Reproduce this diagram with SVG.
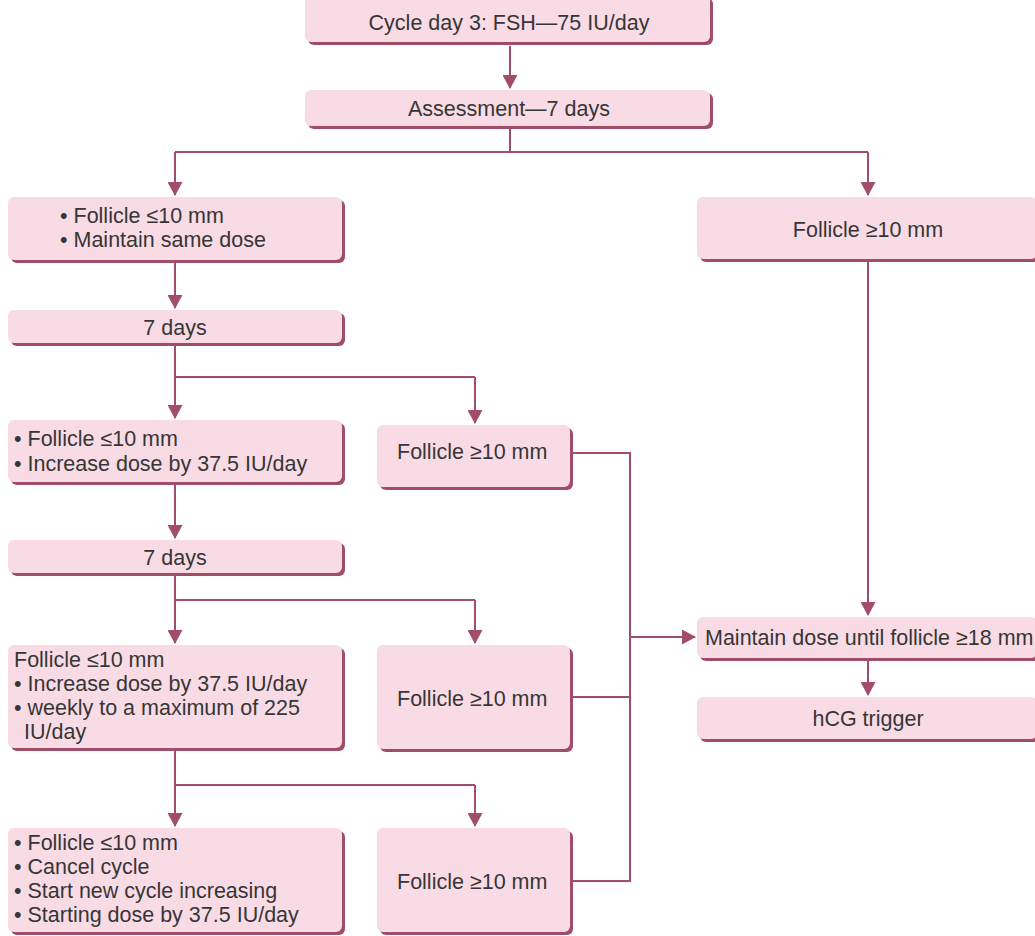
<svg xmlns="http://www.w3.org/2000/svg" width="1035" height="936" viewBox="0 0 1035 936">
  <style>
    .box { fill: #f9dbe5; }
    .shadow { fill: #a04d66; }
    .lbl { font-family: "Liberation Sans", Arial, sans-serif; font-size: 21.5px; fill: #363636; }
    .mid { text-anchor: middle; }
    .wire { fill: none; stroke: #a24e68; stroke-width: 2; }
  </style>
  <defs>
    <marker id="arrow" markerUnits="userSpaceOnUse" markerWidth="14" markerHeight="15" viewBox="0 0 14 15" refX="13" refY="7.5" orient="auto">
      <path d="M0,0 L14,7.5 L0,15 Z" fill="#a24e68"/>
    </marker>
  </defs>
  <rect width="1035" height="936" fill="#ffffff"/>

  <!-- connectors -->
  <g id="connectors" class="wire">
    <path d="M510,46 V88" marker-end="url(#arrow)"/>
    <path d="M510,128 V152"/>
    <path d="M175,152 H868"/>
    <path d="M175,152 V195" marker-end="url(#arrow)"/>
    <path d="M868,152 V195" marker-end="url(#arrow)"/>
    <path d="M175,263 V308" marker-end="url(#arrow)"/>
    <path d="M175,345 V377 H475"/>
    <path d="M175,377 V418" marker-end="url(#arrow)"/>
    <path d="M475,377 V423" marker-end="url(#arrow)"/>
    <path d="M175,485 V538" marker-end="url(#arrow)"/>
    <path d="M175,575 V600 H475"/>
    <path d="M175,600 V643" marker-end="url(#arrow)"/>
    <path d="M475,600 V643" marker-end="url(#arrow)"/>
    <path d="M175,751 V785 H475"/>
    <path d="M175,785 V826" marker-end="url(#arrow)"/>
    <path d="M475,785 V826" marker-end="url(#arrow)"/>
    <path d="M573,453 H630 V881 H573"/>
    <path d="M573,697 H630"/>
    <path d="M630,637 H695" marker-end="url(#arrow)"/>
    <path d="M868,262 V615" marker-end="url(#arrow)"/>
    <path d="M868,661 V695" marker-end="url(#arrow)"/>
  </g>

  <g id="start">
    <rect class="shadow" x="308" y="-2" width="405" height="47" rx="6"/>
    <rect class="box" x="305" y="-5" width="405" height="47" rx="6"/>
    <text class="lbl mid" x="509" y="30">Cycle day 3: FSH—75 IU/day</text>
  </g>
  <g id="assess">
    <rect class="shadow" x="308" y="93" width="405" height="36" rx="6"/>
    <rect class="box" x="305" y="90" width="405" height="36" rx="6"/>
    <text class="lbl mid" x="509" y="116">Assessment—7 days</text>
  </g>
  <g id="maintain-same">
    <rect class="shadow" x="11" y="200" width="334" height="63" rx="6"/>
    <rect class="box" x="8" y="197" width="334" height="63" rx="6"/>
    <text class="lbl" x="60" y="223">• Follicle ≤10 mm</text>
    <text class="lbl" x="60" y="247">• Maintain same dose</text>
  </g>
  <g id="large-1">
    <rect class="shadow" x="700" y="200" width="340" height="62" rx="6"/>
    <rect class="box" x="697" y="197" width="340" height="62" rx="6"/>
    <text class="lbl mid" x="868" y="237">Follicle ≥10 mm</text>
  </g>
  <g id="week-1">
    <rect class="shadow" x="11" y="313" width="334" height="33" rx="6"/>
    <rect class="box" x="8" y="310" width="334" height="33" rx="6"/>
    <text class="lbl mid" x="175" y="335">7 days</text>
  </g>
  <g id="increase-1">
    <rect class="shadow" x="11" y="423" width="334" height="62" rx="6"/>
    <rect class="box" x="8" y="420" width="334" height="62" rx="6"/>
    <text class="lbl" x="14" y="446">• Follicle ≤10 mm</text>
    <text class="lbl" x="14" y="471">• Increase dose by 37.5 IU/day</text>
  </g>
  <g id="large-2">
    <rect class="shadow" x="380" y="428" width="193" height="62" rx="6"/>
    <rect class="box" x="377" y="425" width="193" height="62" rx="6"/>
    <text class="lbl" x="397" y="459">Follicle ≥10 mm</text>
  </g>
  <g id="week-2">
    <rect class="shadow" x="11" y="543" width="334" height="33" rx="6"/>
    <rect class="box" x="8" y="540" width="334" height="33" rx="6"/>
    <text class="lbl mid" x="175" y="565">7 days</text>
  </g>
  <g id="increase-2">
    <rect class="shadow" x="11" y="648" width="334" height="103" rx="6"/>
    <rect class="box" x="8" y="645" width="334" height="103" rx="6"/>
    <text class="lbl" x="14" y="667">Follicle ≤10 mm</text>
    <text class="lbl" x="14" y="691">• Increase dose by 37.5 IU/day</text>
    <text class="lbl" x="14" y="715">• weekly to a maximum of 225</text>
    <text class="lbl" x="24" y="739">IU/day</text>
  </g>
  <g id="large-3">
    <rect class="shadow" x="380" y="648" width="193" height="104" rx="6"/>
    <rect class="box" x="377" y="645" width="193" height="104" rx="6"/>
    <text class="lbl" x="397" y="706">Follicle ≥10 mm</text>
  </g>
  <g id="maintain-until">
    <rect class="shadow" x="700" y="620" width="340" height="41" rx="6"/>
    <rect class="box" x="697" y="617" width="340" height="41" rx="6"/>
    <text class="lbl" x="705" y="645">Maintain dose until follicle ≥18 mm</text>
  </g>
  <g id="hcg">
    <rect class="shadow" x="700" y="700" width="340" height="42" rx="6"/>
    <rect class="box" x="697" y="697" width="340" height="42" rx="6"/>
    <text class="lbl mid" x="868" y="726">hCG trigger</text>
  </g>
  <g id="cancel">
    <rect class="shadow" x="11" y="831" width="334" height="104" rx="6"/>
    <rect class="box" x="8" y="828" width="334" height="104" rx="6"/>
    <text class="lbl" x="14" y="850">• Follicle ≤10 mm</text>
    <text class="lbl" x="14" y="874">• Cancel cycle</text>
    <text class="lbl" x="14" y="898">• Start new cycle increasing</text>
    <text class="lbl" x="14" y="922">• Starting dose by 37.5 IU/day</text>
  </g>
  <g id="large-4">
    <rect class="shadow" x="380" y="831" width="193" height="104" rx="6"/>
    <rect class="box" x="377" y="828" width="193" height="104" rx="6"/>
    <text class="lbl" x="397" y="889">Follicle ≥10 mm</text>
  </g>
</svg>
